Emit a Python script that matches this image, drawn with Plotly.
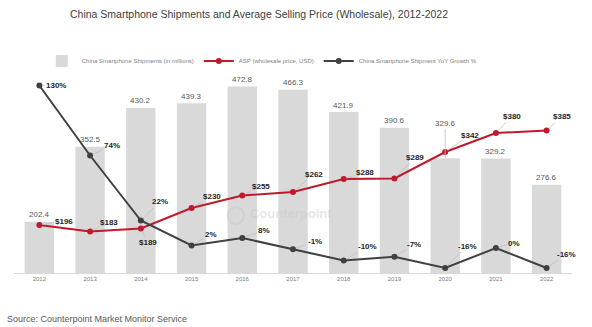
import plotly.graph_objects as go

# ---- data ----
years = ["2012", "2013", "2014", "2015", "2016", "2017", "2018", "2019", "2020", "2021", "2022"]
shipments = [202.4, 352.5, 430.2, 439.3, 472.8, 466.3, 421.9, 390.6, 329.6, 329.2, 276.6]
asp_usd = [196, 183, 189, 230, 255, 262, 288, 289, 342, 380, 385]
yoy_growth = [130, 74, 22, 2, 8, -1, -10, -7, -16, 0, -16]

# ---- label placement (pixel offsets from each point) ----
asp_offsets = [(25, -4), (19, -9), (7, 14), (20, -12), (19, -9), (21, -18),
               (21, -7), (21, -21), (25, -17), (16, -17), (15, -14)]
yoy_offsets = [(17, 0), (22, -10), (19, -19), (19, -11), (22, -8), (22, -8),
               (24, -14), (20, -12), (22, -22), (18, -5), (20, -14)]
bar_offsets = [-7, -7, -7, -7, -7, -7, -7, -7, -35, -7, -7]

FONT = "Liberation Sans, Arial, sans-serif"
RED = "#c0192c"
DARK = "#404040"
BAR = "#d9d9d9"
LEADER = "#bfbfbf"

fig = go.Figure()
fig.add_trace(go.Bar(
    x=years, y=shipments, name="China Smartphone Shipments (in millions)",
    marker=dict(color=BAR, line=dict(width=0)), yaxis="y",
))
fig.add_trace(go.Scatter(
    x=years, y=asp_usd, name="ASP (wholesale price, USD)", mode="lines+markers",
    line=dict(color=RED, width=2), marker=dict(color=RED, size=6), yaxis="y",
))
fig.add_trace(go.Scatter(
    x=years, y=yoy_growth, name="China Smartphone Shipment YoY Growth %", mode="lines+markers",
    line=dict(color=DARK, width=2), marker=dict(color=DARK, size=6), yaxis="y2",
))

# category positions for annotations are the serial index of each year
annotations = []
for i, (v, dy) in enumerate(zip(shipments, bar_offsets)):
    annotations.append(dict(
        x=i, y=v, xref="x", yref="y", text=f"{v:.1f}", showarrow=True,
        ax=0, ay=dy, arrowhead=0, arrowwidth=0.8,
        arrowcolor=LEADER if dy < -10 else "rgba(0,0,0,0)",
        font=dict(family=FONT, size=8, color="#595959"),
    ))
for i, (v, (dx, dy)) in enumerate(zip(asp_usd, asp_offsets)):
    annotations.append(dict(
        x=i, y=v, xref="x", yref="y", text=f"<b>${v}</b>", showarrow=True,
        ax=dx, ay=dy, arrowhead=0, arrowwidth=0.8, arrowcolor=LEADER, standoff=3,
        font=dict(family=FONT, size=8, color="#262626"),
    ))
for i, (v, (dx, dy)) in enumerate(zip(yoy_growth, yoy_offsets)):
    annotations.append(dict(
        x=i, y=v, xref="x", yref="y2", text=f"<b>{v}%</b>", showarrow=True,
        ax=dx, ay=dy, arrowhead=0, arrowwidth=0.8, arrowcolor=LEADER, standoff=3,
        font=dict(family=FONT, size=8, color="#262626"),
    ))

# faint brand watermark
annotations.append(dict(
    x=0.42, y=0.30, xref="paper", yref="paper", text="<b>Counterpoint</b>",
    showarrow=False, xanchor="left", yanchor="middle",
    font=dict(family=FONT, size=13, color="rgba(200,200,200,0.45)"),
))
# source line
annotations.append(dict(
    x=-0.016, y=-0.228, xref="paper", yref="paper",
    text="Source: Counterpoint Market Monitor Service", showarrow=False,
    xanchor="left", yanchor="middle",
    font=dict(family=FONT, size=9, color="#595959"),
))

fig.update_layout(
    width=592, height=327,
    margin=dict(l=14, r=20, t=73, b=54),
    paper_bgcolor="white", plot_bgcolor="white",
    bargap=0.42,
    title=dict(
        text="China Smartphone Shipments and Average Selling Price (Wholesale), 2012-2022",
        x=259 / 592, xanchor="center", xref="container",
        y=1 - 14 / 327, yanchor="middle", yref="container",
        font=dict(family=FONT, size=10.5, color="#404040"),
    ),
    legend=dict(
        orientation="h", x=0.444, y=1.06, xanchor="center", yanchor="middle",
        font=dict(family=FONT, size=6, color="#808080"),
        bgcolor="rgba(0,0,0,0)", itemwidth=30, traceorder="normal",
    ),
    xaxis=dict(
        type="category", range=[-0.5, 10.5], showline=True, linecolor=BAR, linewidth=1,
        showgrid=False, ticks="", zeroline=False,
        tickfont=dict(family=FONT, size=6, color="#808080"),
    ),
    yaxis=dict(range=[100, 500], visible=False, showgrid=False, zeroline=False),
    yaxis2=dict(range=[-20, 140], overlaying="y", side="right", visible=False,
                showgrid=False, zeroline=False),
    annotations=annotations,
    shapes=[dict(
        type="circle", xref="paper", yref="paper",
        x0=0.383, x1=0.412, y0=0.245, y1=0.33,
        line=dict(color="rgba(200,200,200,0.45)", width=2),
    )],
)

fig.write_html("out.html")
